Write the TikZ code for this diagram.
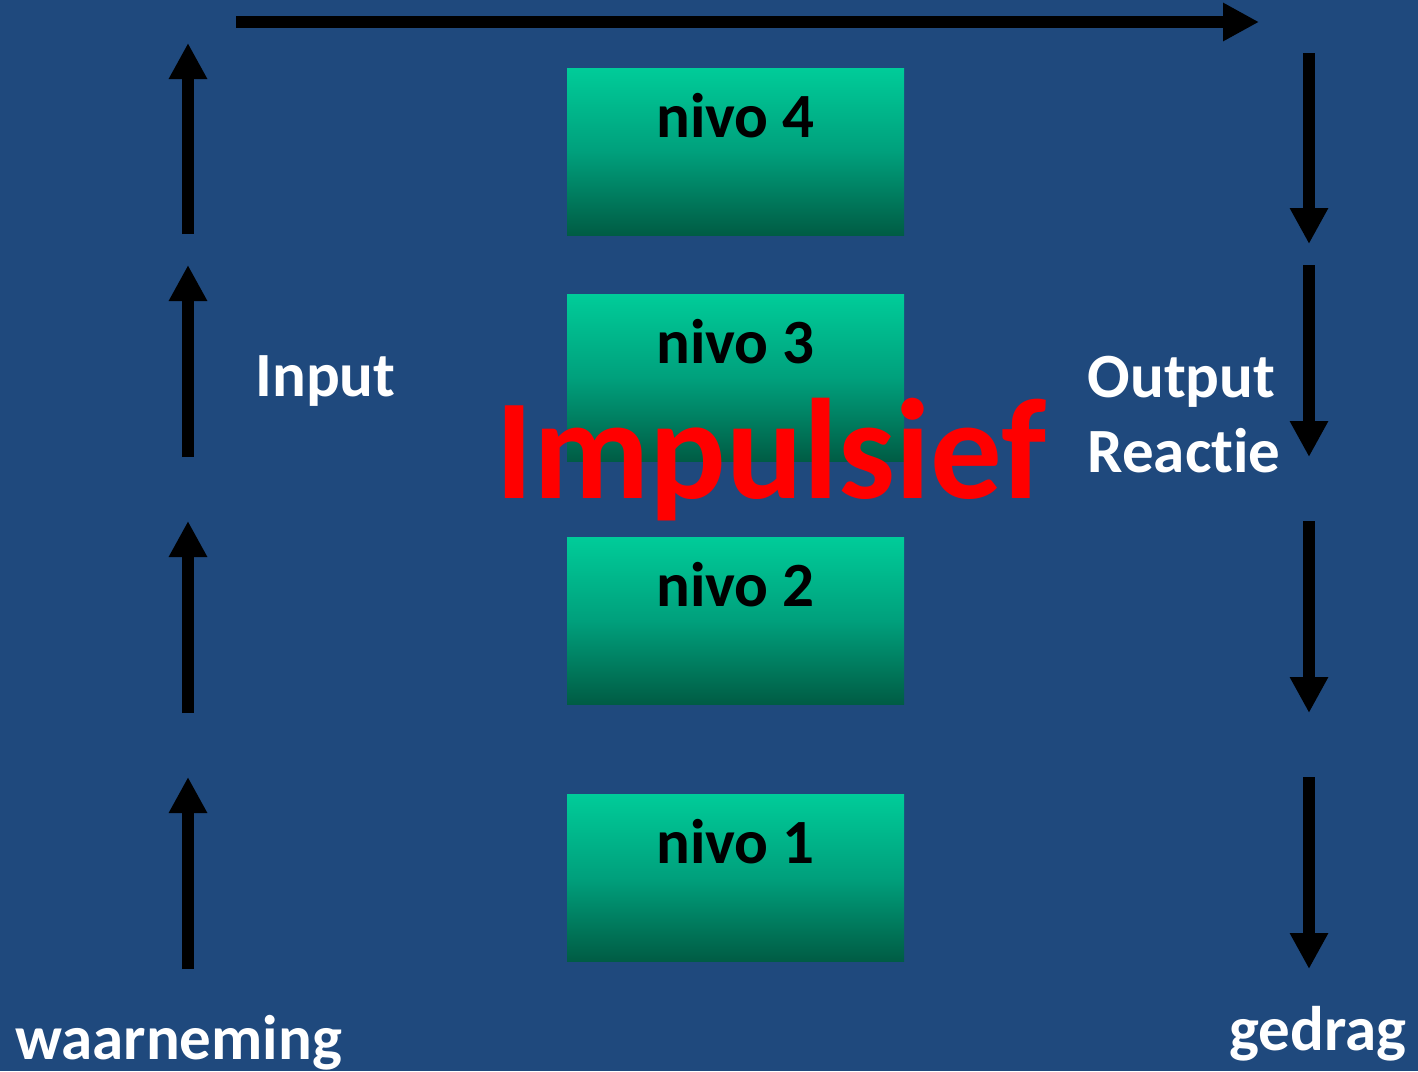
\documentclass[tikz,border=0pt]{standalone}
\usepackage{fontspec}
\setmainfont{Carlito}[Ligatures=NoCommon]
\usetikzlibrary{arrows.meta}
\definecolor{bgblue}{HTML}{1F497D}
\definecolor{boxtop}{HTML}{00CC99}
\definecolor{boxmid}{HTML}{00A07C}
\definecolor{boxbot}{HTML}{005C44}
\tikzset{
  box/.style={minimum width=337pt, minimum height=167pt, inner sep=0pt,
    top color=boxtop, bottom color=boxbot, middle color=boxmid},
  nivo/.style={font=\fontsize{63}{70}\selectfont\bfseries, anchor=base, inner sep=0pt},
  lbl/.style={font=\fontsize{63}{70}\selectfont\bfseries, text=white, anchor=base, inner sep=0pt},
  flow/.style={line width=12.5pt, -{Triangle[width=36pt,length=36pt]}},
}
\begin{document}
\begin{tikzpicture}[x=1pt,y=-1pt]
      \useasboundingbox (0,0) rectangle (1418,1071);
      \fill[bgblue] (0,0) rectangle (1418,1071);
      \path
        (735.5,151.5) node[box] (b4){}
        (735.5,378) node[box] (b3){}
        (735.5,620.5) node[box] (b2){}
        (735.5,877.5) node[box] (b1){};
      \node[nivo] (t4) at ([yshift=-69.5pt]b4.north) {nivo 4};
      \node[nivo] (t3) at ([yshift=-69.5pt]b3.north) {nivo 3};
      \node[nivo] (t2) at ([yshift=-69.5pt]b2.north) {nivo 2};
      \node[nivo] (t1) at ([yshift=-69.5pt]b1.north) {nivo 1};
      \node[font=\fontsize{143}{150}\selectfont\bfseries, text=red, anchor=base, inner sep=0pt]
        (imp) at (771,498) {Impulsief};
      \node[lbl] (input) at (325.5,396) {Input};
      \node[lbl] (output) at (1181.5,397) {Output};
      \node[lbl] (reactie) at (1184,472) {Reactie};
      \node[lbl] (waarneming) at (178.5,1059) {waarneming};
      \node[lbl] (gedrag) at (1318,1050) {gedrag};
      \path
        (188,969) coordinate (u1a) (188,777) coordinate (u1b)
        (188,713) coordinate (u2a) (188,521) coordinate (u2b)
        (188,457) coordinate (u3a) (188,265) coordinate (u3b)
        (188,234) coordinate (u4a) (188,43) coordinate (u4b)
        (236,22) coordinate (topa) (1259,22) coordinate (topb)
        (1309,53) coordinate (d4a) (1309,244) coordinate (d4b)
        (1309,265) coordinate (d3a) (1309,457) coordinate (d3b)
        (1309,521) coordinate (d2a) (1309,713) coordinate (d2b)
        (1309,777) coordinate (d1a) (1309,969) coordinate (d1b);
      \begin{scope}[flow]
        \draw (u1a) to (u1b);
        \draw (u2a) to (u2b);
        \draw (u3a) to (u3b);
        \draw (u4a) to (u4b);
        \draw (topa) to (topb);
        \draw (d4a) to (d4b);
        \draw (d3a) to (d3b);
        \draw (d2a) to (d2b);
        \draw (d1a) to (d1b);
      \end{scope}
    \end{tikzpicture}
\end{document}
